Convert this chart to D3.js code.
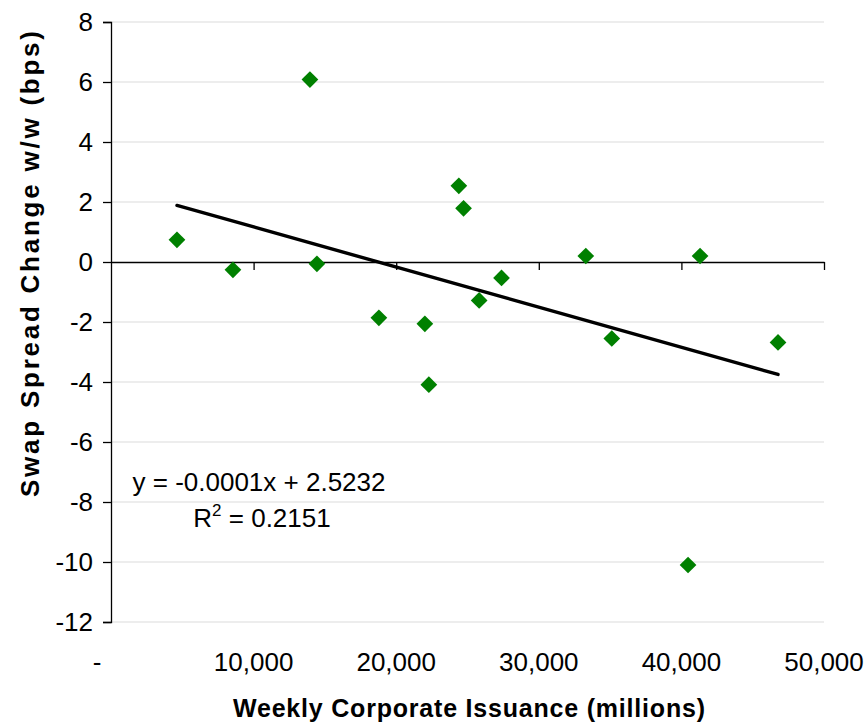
<!DOCTYPE html>
<html>
<head>
<meta charset="utf-8">
<script src="https://cdn.jsdelivr.net/npm/d3@7"></script>
<style>
  html, body { margin: 0; padding: 0; background: #fff; }
  svg { display: block; font-family: "Liberation Sans", Arial, sans-serif; }
</style>
</head>
<body>
<svg id="chart" width="867" height="722"></svg>
<script>
// ---- data ----
const issuance   = [4626, 8552, 13950, 14440, 18786, 22010, 22290, 24393, 24723, 25817, 27386, 33296, 35118, 41308, 46776, 40466];
const swapChange = [0.74, -0.26, 6.08, -0.06, -1.86, -2.06, -4.09, 2.54, 1.79, -1.28, -0.53, 0.20, -2.55, 0.20, -2.68, -10.1];
const xTicks = [0, 10000, 20000, 30000, 40000, 50000];
const yTicks = [8, 6, 4, 2, 0, -2, -4, -6, -8, -10, -12];
const xTitle = "Weekly Corporate Issuance (millions)";
const yTitle = "Swap Spread Change w/w (bps)";
const eqLine = "y = -0.0001x + 2.5232";
const r2Value = "0.2151";

// ---- layout ----
const svg = d3.select("#chart");
const x = d3.scaleLinear().domain([0, 50000]).range([111, 824]);
const y = d3.scaleLinear().domain([-12, 8]).range([622, 22]);

// gridlines
svg.append("g").selectAll("line")
  .data(yTicks.filter(d => d !== 0))
  .join("line")
  .attr("x1", x(0)).attr("x2", x(50000))
  .attr("y1", d => y(d)).attr("y2", d => y(d))
  .attr("stroke", "#dcdcdc").attr("stroke-width", 1.2);

// y axis
const yAxis = d3.axisLeft(y).tickValues(yTicks).tickSize(8).tickPadding(10)
  .tickFormat(d => d3.format("d")(d).replace("−", "-"));
const gy = svg.append("g").attr("transform", `translate(${x(0)},0)`).call(yAxis);
gy.select(".domain").attr("stroke", "#000").attr("stroke-width", 1.3);
gy.selectAll(".tick line").attr("stroke", "#000").attr("stroke-width", 1.3);
gy.selectAll(".tick text").attr("font-size", 26).attr("fill", "#000")
  .attr("font-family", "Liberation Sans, Arial, sans-serif");

// x axis at y=0
const xAxis = d3.axisBottom(x).tickValues(xTicks).tickSize(8).tickSizeOuter(0)
  .tickFormat(() => "");
const gx = svg.append("g").attr("transform", `translate(0,${y(0)})`).call(xAxis);
gx.select(".domain").attr("stroke", "#000").attr("stroke-width", 1.3);
gx.selectAll(".tick line").attr("stroke", "#000").attr("stroke-width", 1.3)
  .attr("opacity", d => d === 0 ? 0 : 1);

// x tick labels at the bottom
svg.append("g").selectAll("text")
  .data(xTicks)
  .join("text")
  .attr("x", d => x(d) + (d === 0 ? -14 : 0))
  .attr("y", 671)
  .attr("text-anchor", "middle")
  .attr("font-size", 26)
  .attr("fill", "#000")
  .text(d => d === 0 ? "-" : d3.format(",")(d));

// regression line from the data
const n = issuance.length;
const mx = d3.mean(issuance), my = d3.mean(swapChange);
let sxy = 0, sxx = 0;
for (let i = 0; i < n; i++) { sxy += (issuance[i] - mx) * (swapChange[i] - my); sxx += (issuance[i] - mx) ** 2; }
const slope = sxy / sxx, intercept = my - slope * mx;
const [xmin, xmax] = d3.extent(issuance);
svg.append("line")
  .attr("x1", x(xmin)).attr("y1", y(intercept + slope * xmin))
  .attr("x2", x(xmax)).attr("y2", y(intercept + slope * xmax))
  .attr("stroke", "#000").attr("stroke-width", 3.4).attr("stroke-linecap", "round");

// points
const diamond = d3.symbol().type(d3.symbolSquare).size(140);
svg.append("g").selectAll("path")
  .data(issuance.map((d, i) => [d, swapChange[i]]))
  .join("path")
  .attr("d", diamond)
  .attr("transform", d => `translate(${x(d[0])},${y(d[1])}) rotate(45)`)
  .attr("fill", "#008000");

// equation text
const eq = svg.append("g").attr("font-size", 26).attr("fill", "#000").attr("text-anchor", "middle");
eq.append("text").attr("x", 259).attr("y", 491).text(eqLine);
const r2 = eq.append("text").attr("x", 262).attr("y", 527);
r2.append("tspan").text("R");
r2.append("tspan").attr("font-size", 17).attr("dy", -11).text("2");
r2.append("tspan").attr("dy", 11).text(" = " + r2Value);

// axis titles
svg.append("text")
  .attr("x", 469).attr("y", 717)
  .attr("text-anchor", "middle")
  .attr("font-size", 25).attr("font-weight", "bold")
  .attr("textLength", 472).attr("lengthAdjust", "spacing")
  .text(xTitle);
svg.append("text")
  .attr("transform", "translate(39,264) rotate(-90)")
  .attr("text-anchor", "middle")
  .attr("font-size", 26).attr("font-weight", "bold")
  .attr("textLength", 466).attr("lengthAdjust", "spacing")
  .text(yTitle);
</script>
</body>
</html>
